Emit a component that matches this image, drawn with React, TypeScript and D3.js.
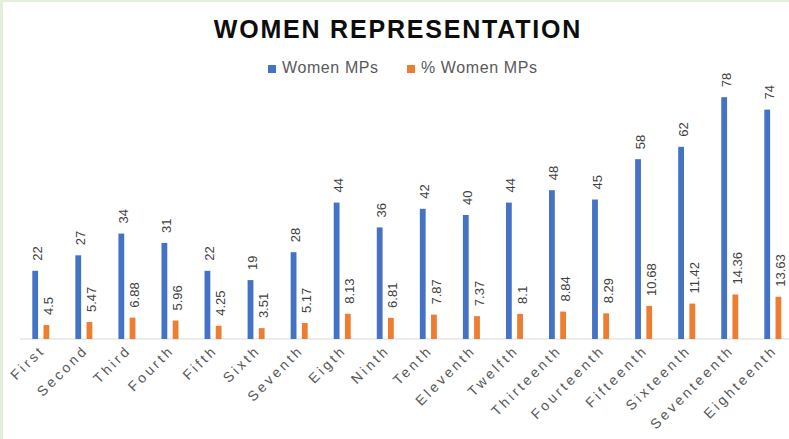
import React from "react";
import * as d3 from "d3";

const categories = ["First","Second","Third","Fourth","Fifth","Sixth","Seventh","Eigth","Ninth","Tenth","Eleventh","Twelfth","Thirteenth","Fourteenth","Fifteenth","Sixteenth","Seventeenth","Eighteenth"];
const womenMPs = [22, 27, 34, 31, 22, 19, 28, 44, 36, 42, 40, 44, 48, 45, 58, 62, 78, 74];
const pctWomen = [4.5, 5.47, 6.88, 5.96, 4.25, 3.51, 5.17, 8.13, 6.81, 7.87, 7.37, 8.1, 8.84, 8.29, 10.68, 11.42, 14.36, 13.63];
const seriesNames = ["Women MPs", "% Women MPs"];
const seriesColors = ["#4472C4", "#ED7D31"];

const W = 789, H = 439;
const FONT = "'Liberation Sans', Arial, sans-serif";

export default function App() {
  const x0 = d3.scaleBand<string>().domain(categories).range([19, 19 + 18 * 43.06]);
  const x1 = d3.scaleBand<string>().domain(seriesNames).range([13.3, 30.3]).paddingInner(0.482);
  const y = d3.scaleLinear().domain([0, 90]).range([339, 60]);
  const data = [womenMPs, pctWomen];

  return (
    <svg width={W} height={H} style={{ position: "absolute", left: 0, top: 0 }} fontFamily={FONT}>
      <rect x={0} y={0} width={W} height={H} fill="#E2EFD9" />
      <rect x={3} y={2} width={W} height={H} fill="#FFFFFF" />
      <text x={398} y={38} textAnchor="middle" fontSize={25} fontWeight="bold" letterSpacing={1.8} fill="#0D0D0D">WOMEN REPRESENTATION</text>
      {seriesNames.map((s, i) => {
        const lx = i === 0 ? 268 : 407;
        return (
          <g key={s}>
            <rect x={lx} y={65} width={8} height={8} fill={seriesColors[i]} />
            <text x={lx + 14} y={73} fontSize={16} letterSpacing={0.6} fill="#595959">{s}</text>
          </g>
        );
      })}
      <line x1={20} x2={W} y1={339} y2={339} stroke="#D9D9D9" strokeWidth={1.2} />
      {categories.map((c, ci) => (
        <g key={c}>
          {seriesNames.map((s, si) => {
            const v = data[si][ci];
            const bx = (x0(c) as number) + (x1(s) as number);
            const bw = x1.bandwidth();
            const top = y(v);
            const cx = bx + bw / 2 + 2;
            return (
              <g key={s}>
                <rect x={bx} y={top} width={bw} height={y(0) - top} fill={seriesColors[si]} />
                <text transform={`translate(${cx},${top - 10}) rotate(-90)`} dy="0.35em" fontSize={13} fill="#404040">{String(v)}</text>
              </g>
            );
          })}
          <text transform={`translate(${(x0(c) as number) + x0.bandwidth() / 2 + 5.5},351) rotate(-45)`} textAnchor="end" fontSize={14} letterSpacing={3} fill="#595959">{c}</text>
        </g>
      ))}
    </svg>
  );
}
